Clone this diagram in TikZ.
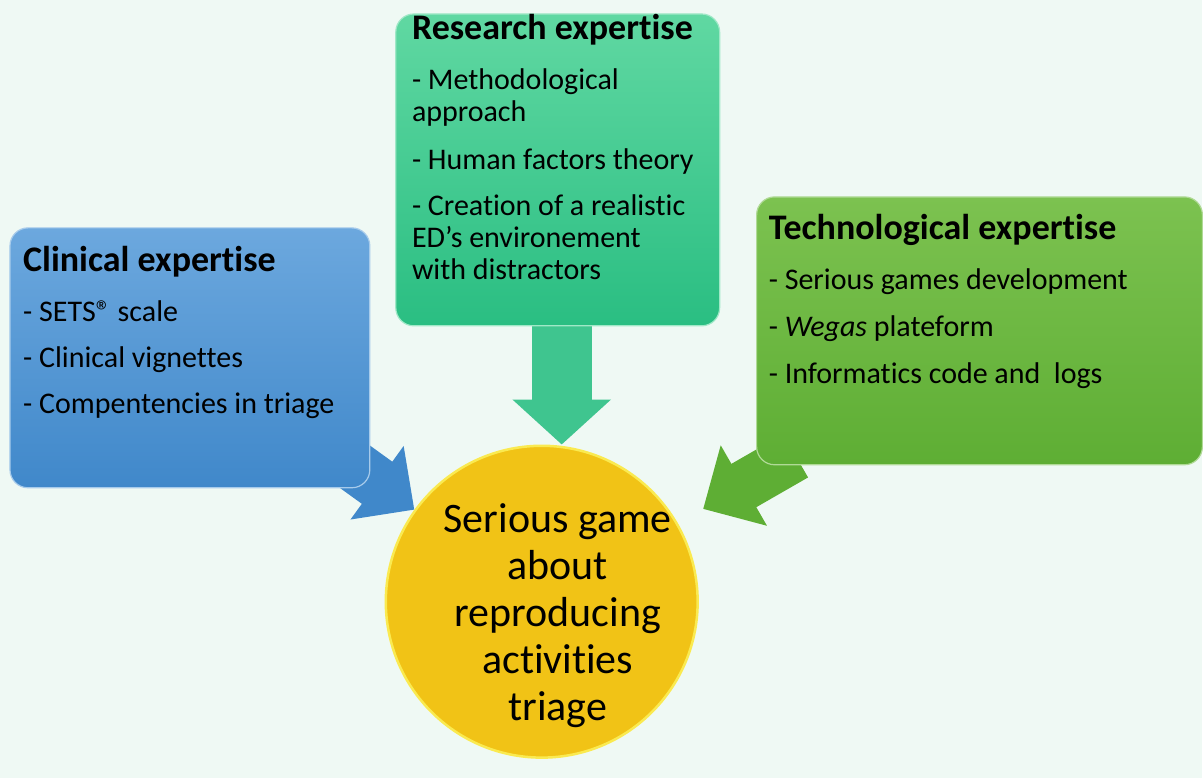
\documentclass[tikz,border=0pt]{standalone}
\usepackage{fontspec}
\setmainfont{Carlito}[Ligatures={TeX,NoCommon}]
\usepackage{xcolor}
\usetikzlibrary{arrows.meta,positioning}

\definecolor{mint}{RGB}{239,249,244}
\definecolor{clintop}{RGB}{108,168,222}
\definecolor{clinbot}{RGB}{64,136,202}
\definecolor{restop}{RGB}{96,216,162}
\definecolor{resbot}{RGB}{42,190,130}
\definecolor{techtop}{RGB}{124,194,80}
\definecolor{techbot}{RGB}{94,174,52}
\definecolor{gold}{RGB}{241,195,22}
\definecolor{goldrim}{RGB}{250,234,80}

\begin{document}
\begin{tikzpicture}[x=1pt,y=-1pt,line cap=butt,
  box/.style={rectangle,rounded corners=18pt,inner sep=0pt,line width=1.2pt},
  clin box/.style={box,draw=clintop!60!white,top color=clintop,bottom color=clinbot},
  res box/.style={box,draw=restop!60!white,top color=restop,bottom color=resbot},
  tech box/.style={box,draw=techtop!60!white,top color=techtop,bottom color=techbot},
  game node/.style={circle,draw=goldrim,line width=2.5pt,fill=gold,inner sep=0pt,minimum size=312pt},
  list text/.style={inner sep=0pt,anchor=base west,font=\fontsize{30}{32}\selectfont},
  game text/.style={inner sep=0pt,anchor=base,font=\fontsize{42}{47}\selectfont}]

    % page
    \fill[mint] (0,0) rectangle (1203,778);

    % the serious game in the middle
    \node[game node] (4) at (542,602) {};

    % feet of the three big arrows, hidden under the boxes
    \coordinate (1a) at (333,451);
    \coordinate (2a) at (562,300);
    \coordinate (3a) at (796,456);

    \draw[clinbot,line width=52pt,-{Triangle[width=88pt,length=46pt]}] (1a) to (4);
    \draw[resbot!90!white,line width=60pt,-{Triangle[width=96pt,length=45pt]}] (2a) to (2a |- 4.north);
    \draw[techbot,line width=50pt,shorten >=29pt,-{Triangle[width=90pt,length=47pt]}] (3a) to (4);

    % the three fields of expertise
    \node[clin box,minimum width=360pt,minimum height=260pt] (1) at (190,358) {};
    \node[res box,minimum width=324pt,minimum height=312pt] (2) at (558,170) {};
    \node[tech box,minimum width=446pt,minimum height=268pt] (3) at (980,331) {};

    \node[list text] (1t) at (23,272) {\begin{tabular}[t]{@{}l@{}}
        {\fontsize{36}{40}\selectfont\bfseries Clinical expertise}\\[18pt]
        - SETS® scale\\[14pt]
        - Clinical vignettes\\[14pt]
        - Compentencies in triage
    \end{tabular}};

    \node[list text] (2t) at (412,40) {\begin{tabular}[t]{@{}l@{}}
        {\fontsize{36}{40}\selectfont\bfseries Research expertise}\\[18pt]
        - Methodological\\
        approach\\[16pt]
        - Human factors theory\\[14pt]
        - Creation of a realistic\\
        ED’s environement\\
        with distractors
    \end{tabular}};

    \node[list text] (3t) at (769,240) {\begin{tabular}[t]{@{}l@{}}
        {\fontsize{36}{40}\selectfont\bfseries Technological expertise}\\[18pt]
        - Serious games development\\[15pt]
        - \textit{Wegas} plateform\\[15pt]
        - Informatics code and\ \ logs
    \end{tabular}};

    \node[game text] (4t) at (558,533) {\begin{tabular}[t]{@{}c@{}}
        Serious game\\
        about\\
        reproducing\\
        activities\\
        triage
    \end{tabular}};

\end{tikzpicture}
\end{document}
